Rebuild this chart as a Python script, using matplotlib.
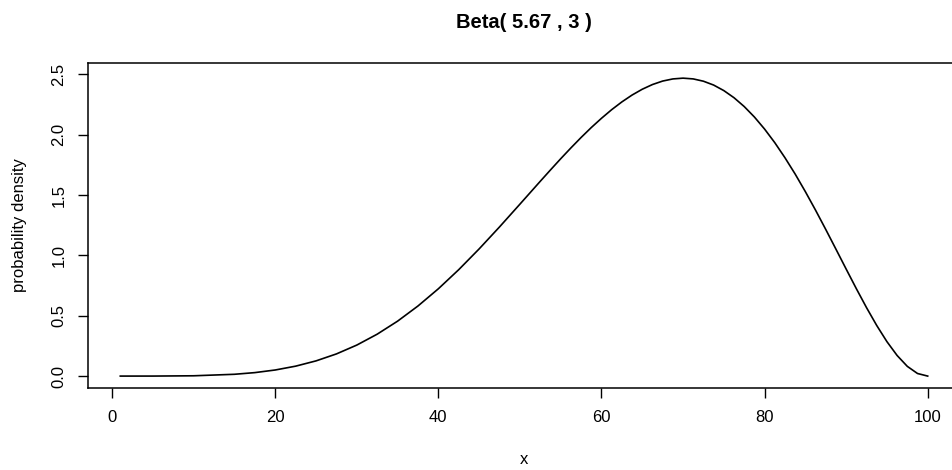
import matplotlib
matplotlib.use("Agg")
import matplotlib.pyplot as plt

# x positions and density values
x = [1, 5, 10, 15, 17.5, 20, 22.5, 25, 27.5, 30, 32.5, 35, 37.5, 40, 42.5, 45,
     47.5, 50, 52.5, 53.75, 55, 56.25, 57.5, 58.75, 60, 61.25, 62.5, 63.75,
     65, 66.25, 67.5, 68.75, 70, 71.25, 72.5, 73.75, 75, 76.25, 77.5, 78.75,
     80, 81.25, 82.5, 83.75, 85, 86.25, 87.5, 88.75, 90, 91.25, 92.5, 93.75,
     95, 96.25, 97.5, 98.75, 100]
density = [0.0, 0.0001, 0.0025, 0.0149, 0.0288, 0.0505, 0.0822, 0.1259, 0.1836,
           0.2569, 0.3472, 0.4550, 0.5807, 0.7233, 0.8817, 1.0536, 1.2357,
           1.4242, 1.6141, 1.7079, 1.8004, 1.8900, 1.9765, 2.0588, 2.1355,
           2.2069, 2.2712, 2.3280, 2.3762, 2.4151, 2.4439, 2.4615, 2.468,
           2.4617, 2.4427, 2.4108, 2.3650, 2.3059, 2.2329, 2.1462, 2.0461,
           1.9335, 1.8085, 1.6734, 1.5277, 1.3742, 1.2146, 1.0512, 0.8867,
           0.7240, 0.5668, 0.4191, 0.2853, 0.1706, 0.0805, 0.0214, 0.0]
xticks = [0, 20, 40, 60, 80, 100]
yticks = [0.0, 0.5, 1.0, 1.5, 2.0, 2.5]

plt.rcParams['font.family'] = ['Liberation Sans', 'DejaVu Sans']

fig = plt.figure(figsize=(9.53, 4.7), dpi=100)
ax = fig.add_axes([88 / 953, 82 / 470, 872 / 953, 325.3 / 470])

ax.plot(x, density, color='black', lw=1.2)
ax.set_xlim(-2.96, 103.96)
ax.set_ylim(-0.0987, 2.596)

ax.set_xticks(xticks)
ax.set_xticklabels([str(t) for t in xticks])
ax.set_yticks(yticks)
ax.set_yticklabels([f"{t:.1f}" for t in yticks], rotation=90, va='center')
ax.tick_params(direction='out', length=7.5, width=1, labelsize=12, pad=8)
for s in ax.spines.values():
    s.set_linewidth(1.1)

cx = (88 + 960) / 2 / 953
fig.text(cx, 1 - 23 / 470, "Beta( 5.67 , 3 )", ha='center', va='center',
         fontsize=14.5, fontweight='bold')
fig.text(cx, 1 - 460 / 470, "x", ha='center', va='center', fontsize=12)
fig.text(20 / 953, 1 - 225 / 470, "probability density", ha='center',
         va='center', rotation=90, fontsize=12)

fig.savefig("out.png", dpi=100)
